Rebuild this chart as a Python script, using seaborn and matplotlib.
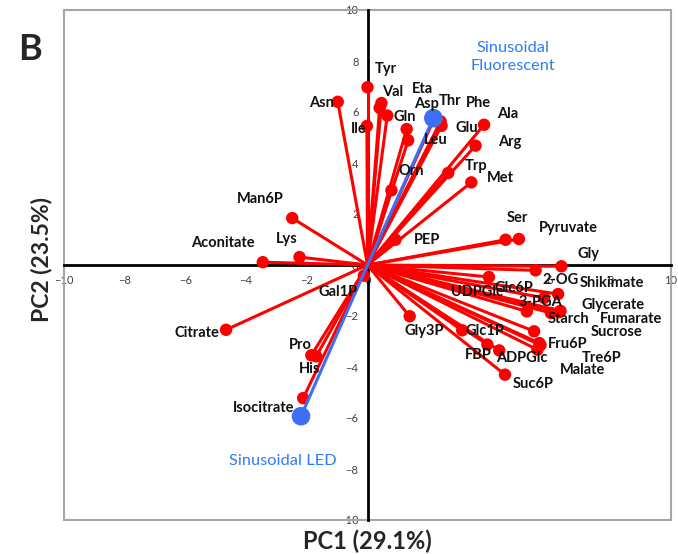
import matplotlib
matplotlib.use("Agg")
import matplotlib.pyplot as plt
from matplotlib.patches import Rectangle
import seaborn as sns
import pandas as pd

# PCA loadings of metabolites (PC1, PC2)
metabolites = [
    "Tyr", "Val", "Eta", "Asp", "Thr", "Phe", "Ala", "Asn", "Ile", "Gln",
    "Glu", "Leu", "Arg", "Trp", "Met", "Orn", "Ser", "Pyruvate", "PEP", "Gly",
    "2-OG", "UDPGlc", "Shikimate", "Glc6P", "3-PGA", "Glycerate", "Starch",
    "Fumarate", "Sucrose", "Fru6P", "Tre6P", "Malate", "Gly3P", "Glc1P", "FBP",
    "ADPGlc", "Suc6P", "Man6P", "Lys", "Aconitate", "Gal1P", "Citrate", "Pro",
    "His", "Isocitrate",
]
pc1 = [
    0.00, 0.46, 0.40, 2.20, 2.41, 2.44, 3.84, -0.98, -0.02, 0.65,
    1.29, 1.34, 3.56, 2.66, 3.42, 0.79, 4.55, 4.99, 0.92, 6.39,
    5.54, 4.00, 6.28, 5.82, 5.25, 6.32, 6.04,
    6.36, 5.49, 5.66, 5.70, 5.60, 1.39, 3.12, 3.95,
    4.34, 4.53, -2.48, -2.24, -3.45, -0.12, -4.66, -1.85,
    -1.69, -2.12,
]
pc2 = [
    6.97, 6.35, 6.16, 5.74, 5.63, 5.46, 5.50, 6.40, 5.45, 5.86,
    5.33, 4.89, 4.68, 3.61, 3.24, 2.93, 0.99, 1.02, 0.99, -0.05,
    -0.21, -0.47, -1.14, -1.29, -1.82, -1.85, -1.88,
    -1.80, -2.60, -3.06, -3.14, -3.32, -2.01, -2.56, -3.12,
    -3.35, -4.30, 1.84, 0.31, 0.11, -0.42, -2.54, -3.54,
    -3.58, -5.22,
]

# Treatment scores
treatments = ["Sinusoidal\nFluorescent", "Sinusoidal LED"]
treat_pc1 = [2.17, -2.19]
treat_pc2 = [5.76, -5.93]

# Label offsets (pixels) relative to each point
label_offsets = {
    "Tyr": (18, 18), "Val": (11, 11), "Eta": (43, 19), "Asp": (-8, 15),
    "Thr": (9, 20), "Phe": (37, 23), "Ala": (24, 11), "Asn": (-16, -1),
    "Ile": (-8, -3), "Gln": (18, -1), "Glu": (60, 1), "Leu": (28, 0),
    "Arg": (34, 4), "Trp": (28, 7), "Met": (29, 4), "Orn": (20, 19),
    "Ser": (12, 22), "Pyruvate": (49, 11), "PEP": (32, 0), "Gly": (27, 12),
    "2-OG": (25, -10), "UDPGlc": (-12, -15), "Shikimate": (54, 11),
    "Glc6P": (-30, 10), "3-PGA": (14, 9), "Glycerate": (54, 7),
    "Starch": (18, -6), "Fumarate": (71, -8), "Sucrose": (82, -1),
    "Fru6P": (28, -1), "Tre6P": (61, -13), "Malate": (45, -20),
    "Gly3P": (15, -15), "Glc1P": (23, -1), "FBP": (-9, -10),
    "ADPGlc": (23, -8), "Suc6P": (28, -9), "Man6P": (-32, 19),
    "Lys": (-13, 18), "Aconitate": (-40, 19), "Gal1P": (-26, -16),
    "Citrate": (-29, -3), "Pro": (-11, 10), "His": (-7, -13),
    "Isocitrate": (-40, -10),
}
treat_offsets = [(80, 61), (-18, -45)]

RED = "#FF0000"
BLUE = "#3D6FF5"
BLUE_TEXT = "#2F7BF0"

sns.set_style("white")
plt.rcParams["font.family"] = ["Lato", "DejaVu Sans"]

fig = plt.figure(figsize=(6.78, 5.54), dpi=100)
ax = fig.add_axes([64 / 678, 34 / 554, 607 / 678, 510 / 554])

# Long-form table: each vector runs from the origin to its loading
met_df = pd.DataFrame({"name": metabolites, "PC1": pc1, "PC2": pc2})
origin = met_df.assign(PC1=0.0, PC2=0.0)
vec_df = pd.concat([origin, met_df], ignore_index=True)

tr_df = pd.DataFrame({"name": treatments, "PC1": treat_pc1, "PC2": treat_pc2})
tr_vec = pd.concat([tr_df.assign(PC1=0.0, PC2=0.0), tr_df], ignore_index=True)

sns.lineplot(data=vec_df, x="PC1", y="PC2", units="name", estimator=None,
             sort=False, color=RED, linewidth=2.2, ax=ax, zorder=3)
sns.scatterplot(data=met_df, x="PC1", y="PC2", color=RED, s=80,
                edgecolor="none", ax=ax, zorder=4)
sns.lineplot(data=tr_vec, x="PC1", y="PC2", units="name", estimator=None,
             sort=False, color=BLUE, linewidth=2.2, ax=ax, zorder=5)
sns.scatterplot(data=tr_df, x="PC1", y="PC2", color=BLUE, s=180,
                edgecolor="none", ax=ax, zorder=6)

for name, x, y in zip(metabolites, pc1, pc2):
    ax.annotate(name, (x, y), xytext=label_offsets[name],
                textcoords="offset pixels", ha="center", va="center",
                fontsize=10.5, fontweight="bold", color="#111111", zorder=7)

for name, x, y, off in zip(treatments, treat_pc1, treat_pc2, treat_offsets):
    ax.annotate(name, (x, y), xytext=off, textcoords="offset pixels",
                ha="center", va="center", fontsize=11.8, color=BLUE_TEXT,
                linespacing=1.3, zorder=7)

# Axes crossing at the origin, with a grey frame round the plot area
ax.set_xlim(-10, 10)
ax.set_ylim(-10, 10)
ax.set_xticks(range(-10, 11, 2))
ax.set_yticks(range(-10, 11, 2))
for side in ("left", "bottom"):
    ax.spines[side].set_position("zero")
    ax.spines[side].set_linewidth(2.0)
    ax.spines[side].set_color("black")
    ax.spines[side].set_zorder(2)
for side in ("top", "right"):
    ax.spines[side].set_visible(False)
ax.add_patch(Rectangle((0, 0), 1, 1, transform=ax.transAxes, fill=False,
                       edgecolor="#A6A6A6", linewidth=1.5, clip_on=False,
                       zorder=1))
ax.tick_params(axis="both", direction="inout", length=7, width=1.8,
               labelsize=8, labelcolor="#404040", color="black")
ax.tick_params(axis="x", pad=4)
ax.tick_params(axis="y", pad=3)
ax.set_xlabel("")
ax.set_ylabel("")

fig.text(367 / 678, 1 - 541 / 554, "PC1 (29.1%)", ha="center", va="center",
         fontsize=17, fontweight="bold")
fig.text(42 / 678, 1 - 260 / 554, "PC2 (23.5%)", ha="center", va="center",
         rotation=90, fontsize=16.5, fontweight="bold")
fig.text(30 / 678, 1 - 50 / 554, "B", ha="center", va="center",
         fontsize=26, fontweight="bold")

fig.savefig("out.png", dpi=100)
